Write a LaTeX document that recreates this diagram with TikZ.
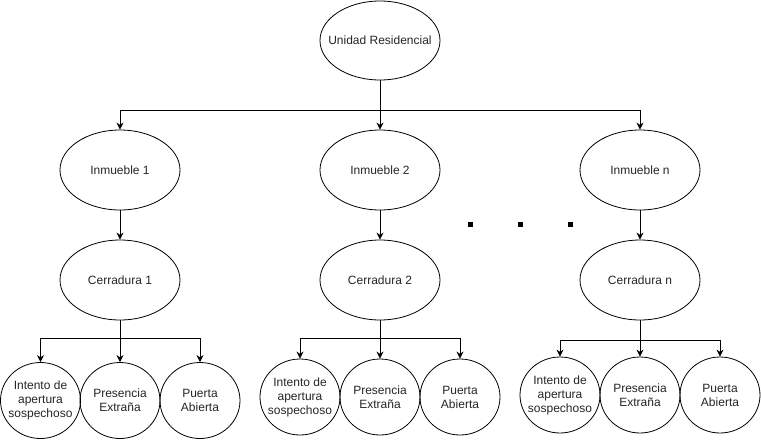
\documentclass[tikz,border=0pt]{standalone}
\usepackage{fontspec}
\setmainfont{Liberation Sans}
\usetikzlibrary{shapes.geometric,arrows.meta}
\begin{document}
\begin{tikzpicture}[x=1pt,y=-1pt,
  box/.style={ellipse,draw,line width=0.8pt,minimum width=120pt,minimum height=80pt,inner sep=0pt},
  leaf/.style={ellipse,draw,line width=0.8pt,minimum width=80pt,minimum height=76pt,inner sep=0pt},
  txt/.style={font=\fontsize{12}{14}\selectfont,align=center,text=black!85,inner sep=0pt},
  arr/.style={-{Stealth[length=7pt,width=7pt]},line width=0.8pt},
  dotmark/.style={rectangle,fill=black,minimum size=5pt,inner sep=0pt}]
\fill[white] (0,0) rectangle (761,440);
\useasboundingbox (0,0) rectangle (761,440);
% top
\node[box,minimum height=79pt,label={[txt]center:Unidad Residencial}] (ur) at (380,40.5) {};
% inmuebles
\node[box,label={[txt]center:Inmueble 1}] (i1) at (120,170) {};
\node[box,label={[txt]center:Inmueble 2}] (i2) at (380,170) {};
\node[box,label={[txt]center:Inmueble n}] (i3) at (640,170) {};
% cerraduras
\node[box,label={[txt]center:Cerradura 1}] (c1) at (120,280) {};
\node[box,label={[txt]center:Cerradura 2}] (c2) at (380,280) {};
\node[box,label={[txt]center:Cerradura n}] (c3) at (640,280) {};
% leaves group 1
\node[leaf,label={[txt]center:Intento de\\apertura\\sospechoso}] (a1) at (40.5,400.5) {};
\node[leaf,label={[txt]center:Presencia\\Extraña}] (p1) at (120,400.5) {};
\node[leaf,label={[txt]center:Puerta\\Abierta}] (b1) at (200,400.5) {};
% leaves group 2
\node[leaf,label={[txt]center:Intento de\\apertura\\sospechoso}] (a2) at (300,397) {};
\node[leaf,label={[txt]center:Presencia\\Extraña}] (p2) at (380,397) {};
\node[leaf,label={[txt]center:Puerta\\Abierta}] (b2) at (460,397) {};
% leaves group 3
\node[leaf,label={[txt]center:Intento de\\apertura\\sospechoso}] (a3) at (560,395) {};
\node[leaf,label={[txt]center:Presencia\\Extraña}] (p3) at (640,395) {};
\node[leaf,label={[txt]center:Puerta\\Abierta}] (b3) at (720,395) {};
% dots
\node[dotmark] (dot1) at (470,224) {};
\node[dotmark] (dot2) at (520,224) {};
\node[dotmark] (dot3) at (570,224) {};
% junctions
\coordinate (j0) at (380,110);
\coordinate (j1) at (120,338);
\coordinate (j2) at (380,338);
\coordinate (j3) at (640,340);
% connectors
\draw[arr] (ur.south) -- (i2.north);
\draw[arr] (j0) -| (i1.north);
\draw[arr] (j0) -| (i3.north);
\draw[arr] (i1.south) -- (c1.north);
\draw[arr] (i2.south) -- (c2.north);
\draw[arr] (i3.south) -- (c3.north);
\draw[arr] (c1.south) -- (p1.north);
\draw[arr] (j1) -| (a1.north);
\draw[arr] (j1) -| (b1.north);
\draw[arr] (c2.south) -- (p2.north);
\draw[arr] (j2) -| (a2.north);
\draw[arr] (j2) -| (b2.north);
\draw[arr] (c3.south) -- (p3.north);
\draw[arr] (j3) -| (a3.north);
\draw[arr] (j3) -| (b3.north);
\end{tikzpicture}
\end{document}
